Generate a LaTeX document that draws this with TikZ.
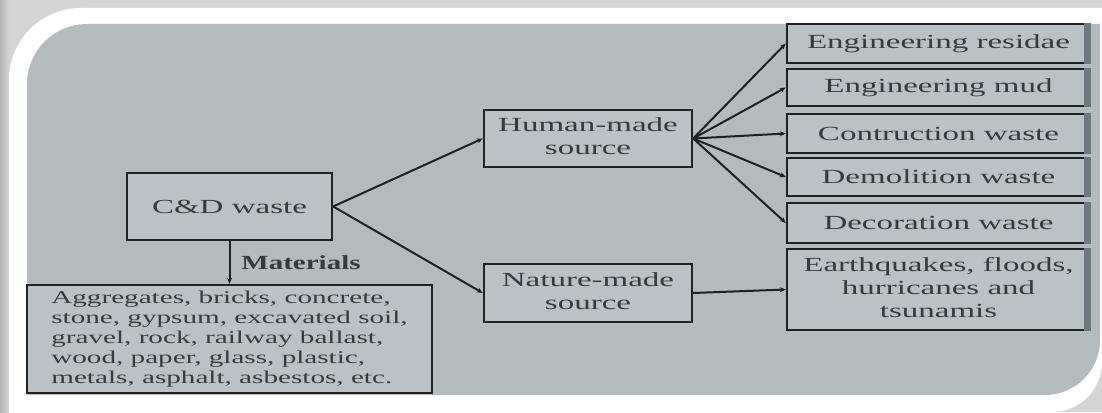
\documentclass[tikz,border=0pt]{standalone}
\usepackage{fontspec}
\setmainfont{Liberation Serif}
\usepackage{graphicx}
\usetikzlibrary{arrows.meta}
\definecolor{bgray}{HTML}{D4D4D4}
\definecolor{panel}{HTML}{B2BCBC}
\definecolor{boxfill}{HTML}{B9C3C5}
\definecolor{ink}{HTML}{1E2224}
\definecolor{txt}{HTML}{363B3E}
\definecolor{edgegray}{HTML}{6E7880}
\newcommand{\sx}[1]{\scalebox{1.65}[1]{#1}}
\newcommand{\sxm}[1]{\scalebox{1.62}[1]{#1}}
\begin{document}
\begin{tikzpicture}[x=1pt,y=-1pt,
  box/.style={draw=ink, line width=2.4pt, fill=boxfill, inner sep=0pt, text=txt, font=\fontsize{20}{23}\selectfont},
  rbox/.style={box, minimum width=303pt},
  conn/.style={draw=ink, line width=2pt, -{Stealth[length=6pt,width=5pt]}},
  lbl/.style={text=txt, inner sep=0pt, font=\fontsize{20}{23}\selectfont\bfseries},
]
\useasboundingbox (0,0) rectangle (1102,412);
% frame
\fill[bgray] (0,0) rectangle (1102,412);
\shade[left color=gray!60, right color=bgray] (0,0) rectangle (9,412);
\fill[white] (9,412) -- (9,80) arc[start angle=180,end angle=270,radius=72] -- (1102,8) -- (1102,362) arc[start angle=0,end angle=90,radius=50] -- cycle;
\fill[panel] (27,395) -- (27,84) arc[start angle=180,end angle=270,radius=60] -- (1100,24) -- (1100,340) arc[start angle=0,end angle=90,radius=55] -- cycle;
% nodes
\node[box, minimum width=205pt, minimum height=67pt] (cd) at (229.5,206.5) {\sx{C\&D waste}};
\node[box, minimum width=208pt, minimum height=57pt] (hm) at (588,138.5) {\sx{\begin{tabular}{@{}c@{}}Human-made\\source\end{tabular}}};
\node[box, minimum width=208pt, minimum height=58pt] (nm) at (588,293) {\sx{\begin{tabular}{@{}c@{}}Nature-made\\source\end{tabular}}};
\node[box, minimum width=405pt, minimum height=108pt, font=\fontsize{18}{20}\selectfont] (mat) at (229.5,339) {\sxm{\begin{tabular}{@{}l@{}}Aggregates, bricks, concrete,\\stone, gypsum, excavated soil,\\gravel, rock, railway ballast,\\wood, paper, glass, plastic,\\metals, asphalt, asbestos, etc.\end{tabular}}};
\node[rbox, minimum height=39pt] (r1) at (938.5,43.5) {\sx{Engineering residae}};
\node[rbox, minimum height=37pt] (r2) at (938.5,87.5) {\sx{Engineering mud}};
\node[rbox, minimum height=39pt] (r3) at (938.5,133.5) {\sx{Contruction waste}};
\node[rbox, minimum height=38pt] (r4) at (938.5,177) {\sx{Demolition waste}};
\node[rbox, minimum height=40pt] (r5) at (938.5,223) {\sx{Decoration waste}};
\node[rbox, minimum height=81pt] (r6) at (938.5,289.5) {\sx{\begin{tabular}{@{}c@{}}Earthquakes, floods,\\hurricanes and\\tsunamis\end{tabular}}};
\node[lbl] (matlbl) at (301,263) {\scalebox{1.45}[1]{Materials}};
% right shadow strips
\foreach \r in {r1,r2,r3,r4,r5,r6}
  \fill[edgegray] ([xshift=-7pt]\r.north east) rectangle (\r.south east);
% connectors
\draw[conn] (cd.east) -- (hm.west);
\draw[conn] (cd.east) -- (nm.west);
\draw[conn] (cd.south) -- (mat.north);
\foreach \r in {r1,r2,r3,r4,r5}
  \draw[conn] (hm.east) -- (\r.west);
\draw[conn] (nm.east) -- (r6.west);
\end{tikzpicture}
\end{document}
